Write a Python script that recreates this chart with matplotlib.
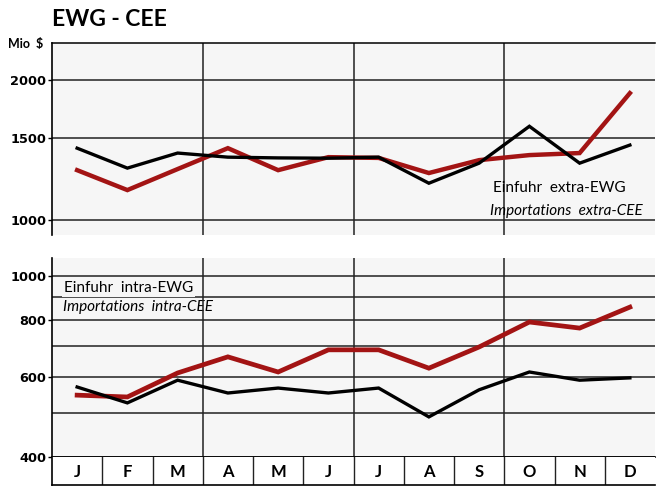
import matplotlib
matplotlib.use("Agg")
import matplotlib.pyplot as plt
import numpy as np

months = ["J", "F", "M", "A", "M", "J", "J", "A", "S", "O", "N", "D"]
extra_black = [1427, 1293, 1393, 1365, 1360, 1358, 1365, 1200, 1325, 1590, 1325, 1449]
extra_red = [1280, 1160, 1287, 1427, 1280, 1365, 1360, 1262, 1345, 1379, 1393, 1873]
intra_red = [547, 542, 612, 664, 615, 688, 688, 627, 698, 792, 768, 854]
intra_black = [570, 526, 590, 553, 567, 553, 567, 490, 562, 615, 590, 597]

top_ticks = [1000, 1500, 2000]
bot_grid = [400, 500, 600, 700, 800, 900, 1000]
bot_ticks = [400, 600, 800, 1000]

plt.rcParams['font.family'] = ['Lato', 'DejaVu Sans']
W, H = 658, 497
fig = plt.figure(figsize=(W / 100, H / 100), dpi=100, facecolor="white")


def rect(l, t, r, b):
    return [l / W, 1 - b / H, (r - l) / W, (b - t) / H]


RED = "#a31414"
GRID = "#222222"
BG = "#f6f6f6"
TICKFONT = dict(family=["DejaVu Sans"], weight="bold", size=9.3)
x = np.arange(12) + 0.5

# ---- top panel
ax1 = fig.add_axes(rect(52, 43, 655, 235))
ax1.set_facecolor(BG)
ax1.set_yscale("log")
ax1.set_ylim(929, 2400)
ax1.set_xlim(0, 12)
for v in top_ticks:
    ax1.axhline(v, color=GRID, lw=1.1, zorder=1)
for q in (3, 6, 9):
    ax1.axvline(q, color=GRID, lw=1.1, zorder=2.5)
ax1.plot(x, extra_red, color=RED, lw=3.2, zorder=3, solid_joinstyle="miter")
ax1.plot(x, extra_black, color="black", lw=2.4, zorder=4, solid_joinstyle="miter")
ax1.yaxis.set_minor_locator(matplotlib.ticker.NullLocator())
ax1.set_yticks(top_ticks)
ax1.set_yticklabels([str(v) for v in top_ticks], fontdict=TICKFONT)
ax1.set_xticks([])
for s in ("right", "bottom"):
    ax1.spines[s].set_visible(False)
ax1.spines["left"].set_linewidth(1.2)
ax1.spines["top"].set_linewidth(1.1)
ax1.tick_params(axis="y", length=3, width=1, pad=1)
ax1.text(0.731, 0.245, "Einfuhr  extra-EWG", transform=ax1.transAxes,
         fontsize=11, ha="left", va="center")
ax1.text(0.727, 0.127, "Importations  extra-CEE", transform=ax1.transAxes,
         fontsize=11, ha="left", va="center", style="italic")

# ---- bottom panel
ax2 = fig.add_axes(rect(52, 258, 655, 457))
ax2.set_facecolor(BG)
ax2.set_yscale("log")
ax2.set_ylim(400, 1095)
ax2.set_xlim(0, 12)
for v in bot_grid:
    ax2.axhline(v, color=GRID, lw=1.1, zorder=1)
for q in (3, 6, 9):
    ax2.axvline(q, color=GRID, lw=1.1, zorder=2.5)
ax2.plot(x, intra_red, color=RED, lw=3.4, zorder=3, solid_joinstyle="miter")
ax2.plot(x, intra_black, color="black", lw=2.4, zorder=4, solid_joinstyle="miter")
ax2.yaxis.set_minor_locator(matplotlib.ticker.NullLocator())
ax2.set_yticks(bot_ticks)
ax2.set_yticklabels([str(v) for v in bot_ticks], fontdict=TICKFONT)
ax2.set_xticks([])
for s in ("right", "top"):
    ax2.spines[s].set_visible(False)
ax2.spines["left"].set_linewidth(1.2)
ax2.spines["bottom"].set_linewidth(1.2)
ax2.tick_params(axis="y", length=3, width=1, pad=1)
ax2.text(0.02, 0.85, "Einfuhr  intra-EWG", transform=ax2.transAxes,
         fontsize=11, ha="left", va="center", zorder=2,
         bbox=dict(facecolor=BG, edgecolor="none", pad=1.5))
ax2.text(0.018, 0.752, "Importations  intra-CEE", transform=ax2.transAxes,
         fontsize=11, ha="left", va="center", style="italic", zorder=2,
         bbox=dict(facecolor=BG, edgecolor="none", pad=0.8))

# ---- month row
ax3 = fig.add_axes(rect(52, 457, 655, 485))
ax3.set_facecolor("white")
ax3.set_xlim(0, 12)
ax3.set_ylim(0, 1)
for i in range(1, 12):
    ax3.axvline(i, color=GRID, lw=1.0)
for i, m in enumerate(months):
    ax3.text(i + 0.5, 0.45, m, ha="center", va="center", fontsize=12,
             fontweight="bold")
ax3.set_xticks([])
ax3.set_yticks([])
for s in ("right", "top"):
    ax3.spines[s].set_visible(False)
ax3.spines["left"].set_linewidth(1.2)
ax3.spines["bottom"].set_linewidth(1.2)

# ---- titles
fig.text(52 / W, 1 - 26 / H, "EWG - CEE", fontsize=16.5, fontweight="bold",
         ha="left", va="baseline")
fig.text(8 / W, 1 - 44 / H, "Mio  $", fontsize=9, fontweight="bold",
         ha="left", va="center")

fig.savefig("out.png", dpi=100, facecolor="white")
